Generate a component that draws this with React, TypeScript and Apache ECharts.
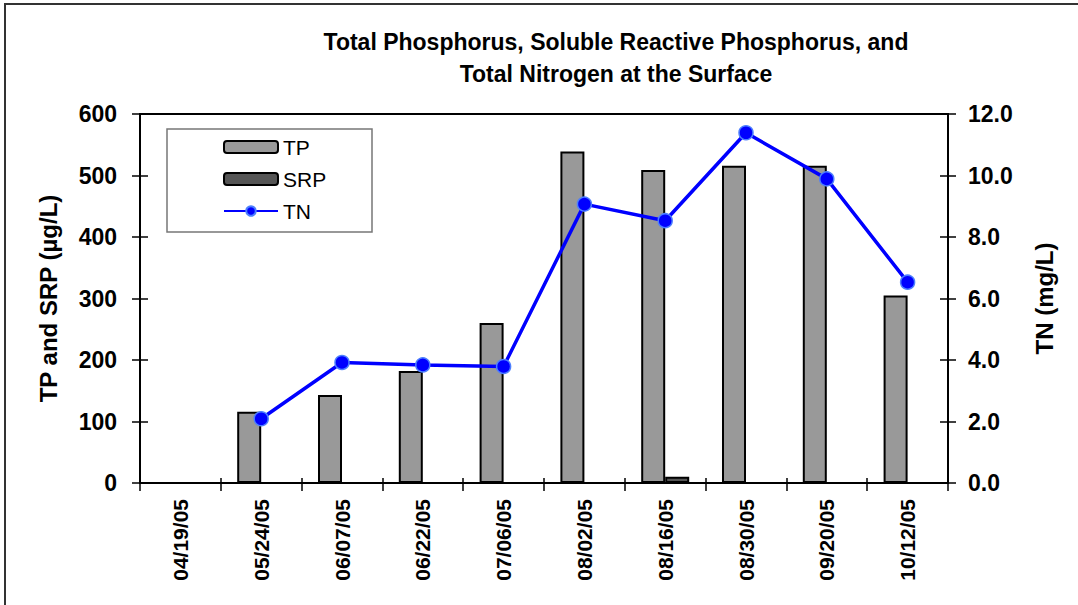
import React, { useEffect, useRef } from 'react';
import * as echarts from 'echarts';

const categories = ['04/19/05', '05/24/05', '06/07/05', '06/22/05', '07/06/05', '08/02/05', '08/16/05', '08/30/05', '09/20/05', '10/12/05'];
const tpValues = [null, 116, 143, 182, 260, 539, 509, 516, 516, 305];
const srpValues = [null, null, null, null, null, null, 10, null, null, null];
const tnValues = [null, 2.09, 3.92, 3.84, 3.79, 9.07, 8.53, 11.39, 9.89, 6.53];
const leftAxis = { min: 0, max: 600, interval: 100 };
const rightAxis = { min: 0, max: 12, interval: 2 };
const titleLines = ['Total Phosphorus, Soluble Reactive Phosphorus, and', 'Total Nitrogen at the Surface'];

const FONT = '"Liberation Sans", Arial, Helvetica, sans-serif';

export default function App() {
  const ref = useRef<HTMLDivElement>(null);
  useEffect(() => {
    document.body.style.margin = '0';
    const chart = echarts.init(ref.current!, null, { renderer: 'svg' });
    const labelStyle = { color: '#000', fontFamily: FONT, fontWeight: 'bold' as const, fontSize: 23 };
    const option: any = {
      animation: false,
      backgroundColor: '#fff',
      textStyle: { fontFamily: FONT },
      grid: { left: 140, right: 130, top: 114, bottom: 122, show: true, borderColor: '#000', borderWidth: 2, containLabel: false },
      graphic: [
        { type: 'rect', z: 0, shape: { x: 5, y: 4, width: 1300, height: 900 }, style: { fill: 'none', stroke: '#333', lineWidth: 2 } },
        { type: 'rect', z: 1, shape: { x: 167, y: 129, width: 205, height: 103 }, style: { fill: '#fff', stroke: '#777', lineWidth: 1.5 } },
        {
          type: 'text', z: 5, x: 616, y: 26,
          style: { text: titleLines.join('\n'), textAlign: 'center', verticalAlign: 'top', fontFamily: FONT, fontWeight: 'bold', fontSize: 23, lineHeight: 32, fill: '#000' },
        },
      ],
      legend: {
        data: ['TP', 'SRP', 'TN'],
        orient: 'vertical', left: 223, top: 136, padding: 0,
        itemWidth: 54, itemHeight: 12, itemGap: 10, selectedMode: false,
        textStyle: { fontSize: 21, lineHeight: 22, color: '#000', fontFamily: FONT },
      },
      xAxis: [
        {
          type: 'category', data: categories, position: 'bottom', boundaryGap: true,
          axisLine: { show: true, lineStyle: { color: '#000', width: 2 } },
          axisTick: { show: true, interval: 0, length: 8, lineStyle: { color: '#000', width: 1.5 } },
          axisLabel: { ...labelStyle, fontSize: 21, rotate: 90, interval: 0, margin: 16 },
          splitLine: { show: false },
        },
        {
          type: 'category', data: categories, position: 'bottom', boundaryGap: true,
          axisLine: { show: false },
          axisTick: { show: true, inside: true, interval: 0, length: 5, lineStyle: { color: '#000', width: 1.5 } },
          axisLabel: { show: false }, splitLine: { show: false },
        },
      ],
      yAxis: [
        {
          type: 'value', position: 'left', ...leftAxis,
          axisLine: { show: true, lineStyle: { color: '#000', width: 2 } },
          axisTick: { show: true, length: 8, lineStyle: { color: '#000', width: 1.5 } },
          axisLabel: { ...labelStyle, margin: 23 },
          splitLine: { show: false },
          name: 'TP and SRP (µg/L)', nameLocation: 'middle', nameGap: 80, nameRotate: 90,
          nameTextStyle: { ...labelStyle, fontSize: 24 },
        },
        {
          type: 'value', position: 'right', ...rightAxis,
          axisLine: { show: true, lineStyle: { color: '#000', width: 2 } },
          axisTick: { show: true, length: 8, lineStyle: { color: '#000', width: 1.5 } },
          axisLabel: { ...labelStyle, margin: 20, formatter: (v: number) => v.toFixed(1) },
          splitLine: { show: false },
          name: 'TN (mg/L)', nameLocation: 'middle', nameGap: 84, nameRotate: 90,
          nameTextStyle: { ...labelStyle, fontSize: 24 },
        },
        {
          type: 'value', position: 'left', ...leftAxis,
          axisLine: { show: false },
          axisTick: { show: true, inside: true, length: 8, lineStyle: { color: '#000', width: 1.5 } },
          axisLabel: { show: false }, splitLine: { show: false },
        },
        {
          type: 'value', position: 'right', ...rightAxis,
          axisLine: { show: false },
          axisTick: { show: true, inside: true, length: 8, lineStyle: { color: '#000', width: 1.5 } },
          axisLabel: { show: false }, splitLine: { show: false },
        },
      ],
      series: [
        {
          name: 'TP', type: 'bar', xAxisIndex: 0, yAxisIndex: 0, data: tpValues,
          barWidth: 24, barGap: '0%',
          itemStyle: { color: '#999999', borderColor: '#000', borderWidth: 2 },
        },
        {
          name: 'SRP', type: 'bar', xAxisIndex: 0, yAxisIndex: 0, data: srpValues,
          barWidth: 24, barGap: '0%',
          itemStyle: { color: '#555555', borderColor: '#000', borderWidth: 2 },
        },
        {
          name: 'TN', type: 'line', xAxisIndex: 0, yAxisIndex: 1, data: tnValues, z: 5,
          symbol: 'circle', symbolSize: 14, showSymbol: true,
          lineStyle: { color: '#0000ff', width: 3.5 },
          itemStyle: { color: '#0000ff', borderColor: '#4d7fff', borderWidth: 1.5 },
        },
      ],
    };
    chart.setOption(option);
    return () => chart.dispose();
  }, []);
  return <div ref={ref} style={{ position: 'fixed', left: 0, top: 0, width: 1078, height: 605 }} />;
}
